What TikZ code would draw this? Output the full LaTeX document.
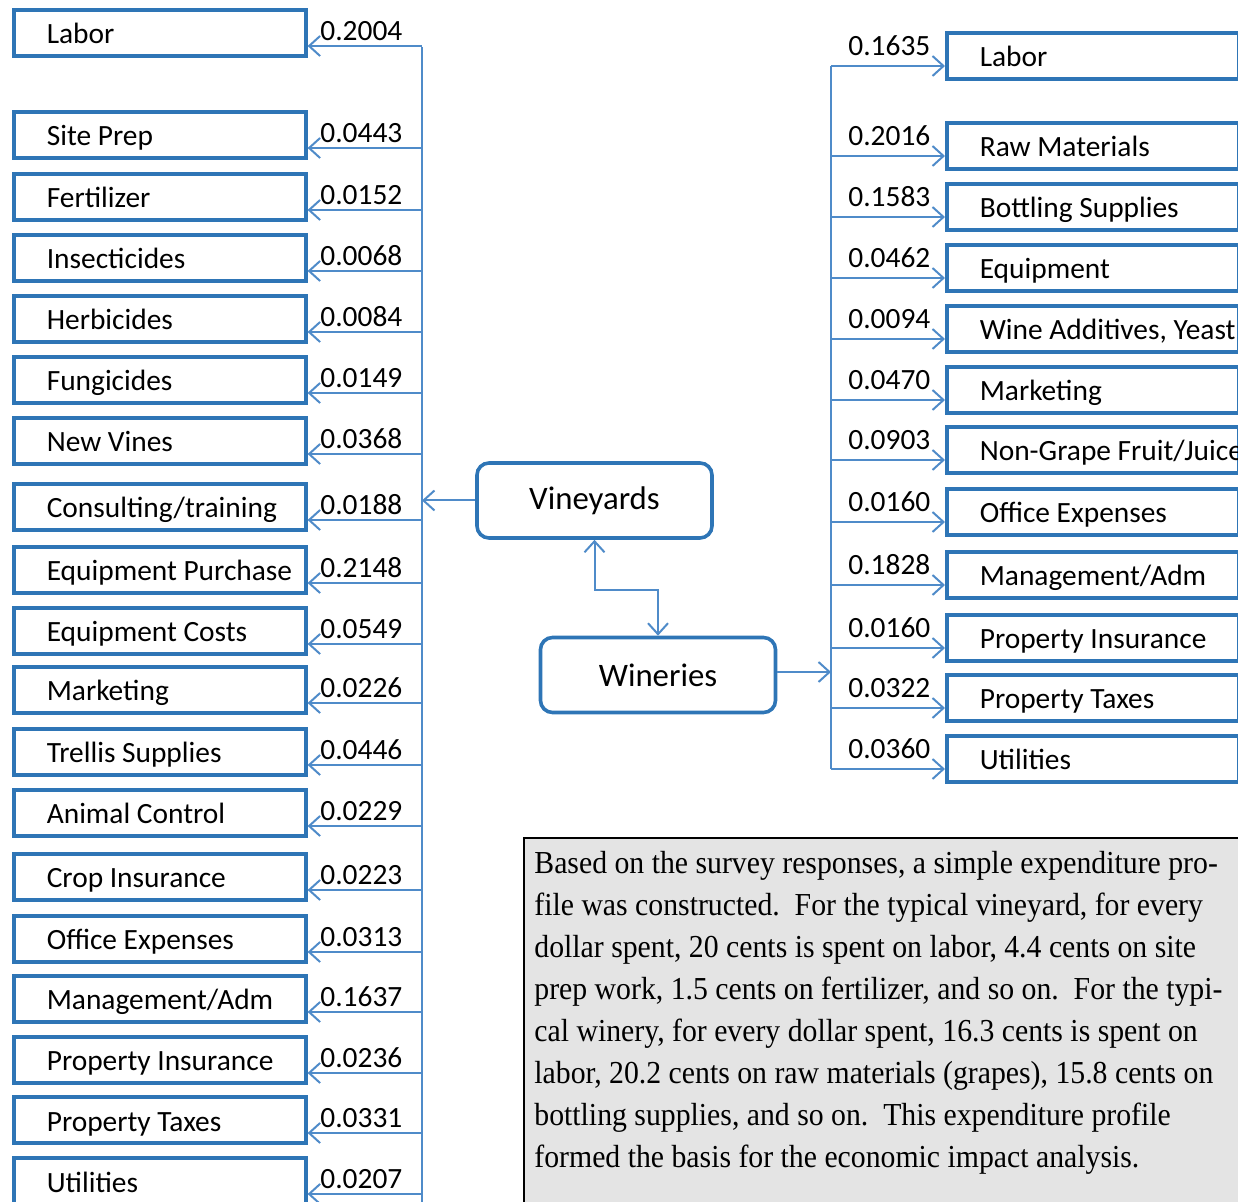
\documentclass[tikz,border=0pt]{standalone}
\usepackage{fontspec}
\setmainfont{Carlito}
\newfontfamily\notefont[FakeStretch=0.93]{Liberation Serif}
\usetikzlibrary{arrows.meta,positioning}
\definecolor{boxblue}{HTML}{2E75B6}
\definecolor{linkblue}{HTML}{4F8BC9}
\definecolor{notegray}{HTML}{E4E4E4}

\newcommand{\costtext}[1]{\makebox[113pt][l]{#1}}

\tikzset{
  costbox/.style={draw=boxblue, line width=1.8pt, fill=white, inner xsep=16.5pt, inner ysep=0pt,
    minimum height=23pt, text height=12pt, text depth=1pt, font=\fontsize{14.7}{17}\selectfont},
  sector/.style={draw=boxblue, line width=1.8pt, rounded corners=6pt, minimum width=117.5pt,
    minimum height=37.5pt, font=\fontsize{16.4}{19}\selectfont},
  share/.style={inner sep=0pt, font=\fontsize{14.7}{17}\selectfont},
  link/.style={draw=linkblue, line width=1pt},
  feed/.style={link, -{Straight Barb[length=5.5pt,width=10pt]}},
}

\begin{document}
\begin{tikzpicture}[x=0.5pt, y=-0.5pt]
  \useasboundingbox (0,0) rectangle (1238,1202);

  % the two sectors
  \node[sector] (vine) at (594.5,500.5) {Vineyards};
  \node[sector] (wine) at (658,675) {Wineries};
  \draw[feed, {Straight Barb[length=5.5pt,width=10pt]}-{Straight Barb[length=5.5pt,width=10pt]}]
    (vine.south) -- ++(0,50) -| (wine.north);

  % vineyard spending
  \coordinate (vbus-top) at (422,47);
  \coordinate (vbus-end) at (422,1210);
  \draw[link] (vbus-top) -- (vbus-end);
  \coordinate (vbus-in) at (422,503);
  \draw[feed] (vine.west) -- (vine.west -| vbus-in);
  \foreach \yc/\name/\val [count=\k] in {33/Labor/0.2004, 135/Site Prep/0.0443,
      197/Fertilizer/0.0152, 258/Insecticides/0.0068, 319/Herbicides/0.0084,
      380/Fungicides/0.0149, 441/New Vines/0.0368, 507/{Consulting/training}/0.0188,
      570/Equipment Purchase/0.2148, 631/Equipment Costs/0.0549, 690/Marketing/0.0226,
      752/Trellis Supplies/0.0446, 813/Animal Control/0.0229, 877/Crop Insurance/0.0223,
      939/Office Expenses/0.0313, 999/{Management/Adm}/0.1637,
      1060/Property Insurance/0.0236, 1120/Property Taxes/0.0331, 1181/Utilities/0.0207} {
    \node[costbox, anchor=west] (vy-\k) at (12,\yc) {\costtext{\name}};
    \node[share, anchor=west] (vyval-\k) at (320,\yc-2) {\val};
    \coordinate (vbus-\k) at (422,\yc+13);
    \draw[feed] (vbus-\k) -- (vy-\k.east |- vbus-\k);
  }

  % winery spending
  \coordinate (wbus-top) at (831,66);
  \coordinate (wbus-end) at (831,769);
  \draw[link] (wbus-top) -- (wbus-end);
  \coordinate (wbus-in) at (831,672);
  \draw[feed] (wine.east |- wbus-in) -- (wbus-in);
  \foreach \yc/\name/\val [count=\k] in {56/Labor/0.1635, 146/Raw Materials/0.2016,
      207/Bottling Supplies/0.1583, 268/Equipment/0.0462, 329/{Wine Additives, Yeast}/0.0094,
      390/Marketing/0.0470, 450/{Non-Grape Fruit/Juice}/0.0903, 512/Office Expenses/0.0160,
      575/{Management/Adm}/0.1828, 638/Property Insurance/0.0160,
      698/Property Taxes/0.0322, 759/Utilities/0.0360} {
    \node[costbox, anchor=west] (wn-\k) at (945,\yc) {\costtext{\name}};
    \node[share, anchor=west] (wnval-\k) at (848,\yc-10) {\val};
    \coordinate (wbus-\k) at (831,\yc+10);
    \draw[feed] (wbus-\k) -- (wn-\k.west |- wbus-\k);
  }

  % note
  \draw[line width=0.8pt, fill=notegray] (524,838) rectangle (1250,1215);
  \node[anchor=north west, inner sep=0pt, align=left,
        font=\notefont\fontsize{16}{21}\selectfont] (memo) at (534,851) {%
    Based on the survey responses, a simple expenditure pro-\\
    file was constructed.\ \ For the typical vineyard, for every\\
    dollar spent, 20 cents is spent on labor, 4.4 cents on site\\
    prep work, 1.5 cents on fertilizer, and so on.\ \ For the typi-\\
    cal winery, for every dollar spent, 16.3 cents is spent on\\
    labor, 20.2 cents on raw materials (grapes), 15.8 cents on\\
    bottling supplies, and so on.\ \ This expenditure profile\\
    formed the basis for the economic impact analysis.};
\end{tikzpicture}
\end{document}
